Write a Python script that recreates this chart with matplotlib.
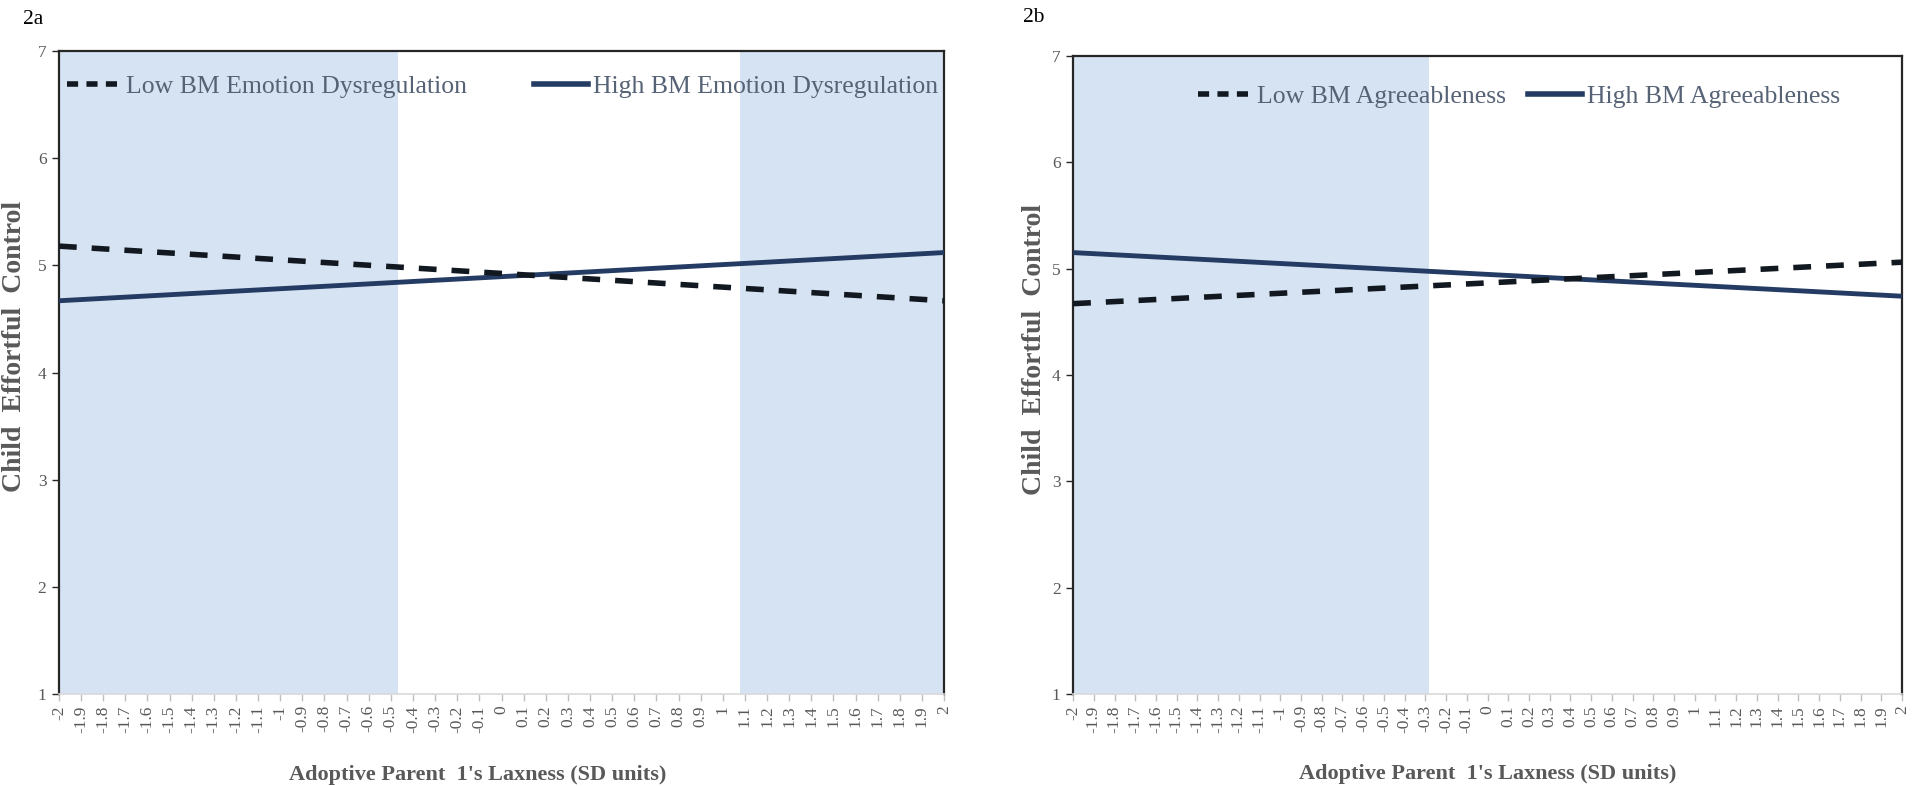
import matplotlib
matplotlib.use('Agg')
import matplotlib.pyplot as plt
from matplotlib.lines import Line2D

plt.rcParams['font.family'] = ['Liberation Serif', 'DejaVu Serif']

# x axis categories (SD units of laxness)
x_labels = ['-2', '-1.9', '-1.8', '-1.7', '-1.6', '-1.5', '-1.4', '-1.3', '-1.2', '-1.1',
            '-1', '-0.9', '-0.8', '-0.7', '-0.6', '-0.5', '-0.4', '-0.3', '-0.2', '-0.1',
            '0', '0.1', '0.2', '0.3', '0.4', '0.5', '0.6', '0.7', '0.8', '0.9',
            '1', '1.1', '1.2', '1.3', '1.4', '1.5', '1.6', '1.7', '1.8', '1.9', '2']
x_ticks = [float(s) for s in x_labels]

# simple slopes, read at the ends of the range
x_ends = [-2, 2]
a_low = [5.18, 4.67]    # Low BM Emotion Dysregulation
a_high = [4.67, 5.12]   # High BM Emotion Dysregulation
b_low = [4.67, 5.06]    # Low BM Agreeableness
b_high = [5.15, 4.74]   # High BM Agreeableness

# regions of significance (shaded)
a_regions = [(-2, -0.47), (1.08, 2)]
b_regions = [(-2, -0.28)]

y_ticks = [1, 2, 3, 4, 5, 6, 7]

grey = '#595959'
shade = '#d6e3f2'
navy = '#243b63'
dark = '#111820'

fig = plt.figure(figsize=(19.2, 7.86), dpi=100)
ax1 = fig.add_axes([0.0307, 0.117, 0.461, 0.818])
ax2 = fig.add_axes([0.5589, 0.117, 0.4317, 0.812])


def draw_panel(ax, low, high, regions, low_name, high_name, leg_pos, colspace):
    for x0, x1 in regions:
        ax.axvspan(x0, x1, color=shade, lw=0, zorder=0)
    ax.plot(x_ends, high, color=navy, lw=3.5, solid_capstyle='butt', zorder=3)
    ax.plot(x_ends, low, color=dark, lw=4.0, dashes=(3.2, 2.7), zorder=4)

    ax.set_xlim(-2, 2)
    ax.set_ylim(1, 7)
    ax.set_yticks(y_ticks)
    ax.set_yticklabels([str(v) for v in y_ticks])
    ax.set_xticks(x_ticks)
    ax.set_xticklabels(x_labels, rotation=90)

    for s in ['top', 'left', 'right']:
        ax.spines[s].set_color('#262626')
        ax.spines[s].set_linewidth(1.6)
    ax.spines['bottom'].set_color('#d9d9d9')
    ax.spines['bottom'].set_linewidth(1.2)

    ax.tick_params(axis='y', colors='#262626', labelcolor=grey, labelsize=12.5,
                   length=5, width=1, pad=4)
    ax.tick_params(axis='x', colors='#bfbfbf', labelcolor=grey, labelsize=12.5,
                   length=5, width=1, pad=3)

    ax.set_ylabel('Child  Effortful  Control', fontsize=20, fontweight='bold',
                  color=grey)
    ax.set_xlabel("Adoptive Parent  1's Laxness (SD units)", fontsize=16,
                  fontweight='bold', color=grey)

    handles = [Line2D([], [], color=dark, lw=4.0, dashes=(2.0, 1.5)),
               Line2D([], [], color=navy, lw=4.0)]
    leg = ax.legend(handles, [low_name, high_name], ncol=2, loc='center left',
                    bbox_to_anchor=leg_pos, frameon=False, fontsize=18.5,
                    handlelength=2.1, handletextpad=0.2, columnspacing=colspace,
                    borderpad=0, borderaxespad=0)
    for t in leg.get_texts():
        t.set_color('#566275')


draw_panel(ax1, a_low, a_high, a_regions, 'Low BM Emotion Dysregulation',
           'High BM Emotion Dysregulation', (0.009, 0.945), 2.6)
draw_panel(ax2, b_low, b_high, b_regions, 'Low BM Agreeableness',
           'High BM Agreeableness', (0.151, 0.936), 0.85)
ax1.yaxis.set_label_coords(-0.036, 0.54)
ax2.yaxis.set_label_coords(-0.031, 0.54)
ax1.xaxis.set_label_coords(0.473, -0.11)
ax2.xaxis.set_label_coords(0.5, -0.11)

fig.text(0.012, 0.975, '2a', fontsize=15.5, color='black', va='center')
fig.text(0.533, 0.978, '2b', fontsize=15.5, color='black', va='center')

plt.savefig('out.png', dpi=100)
plt.close()
